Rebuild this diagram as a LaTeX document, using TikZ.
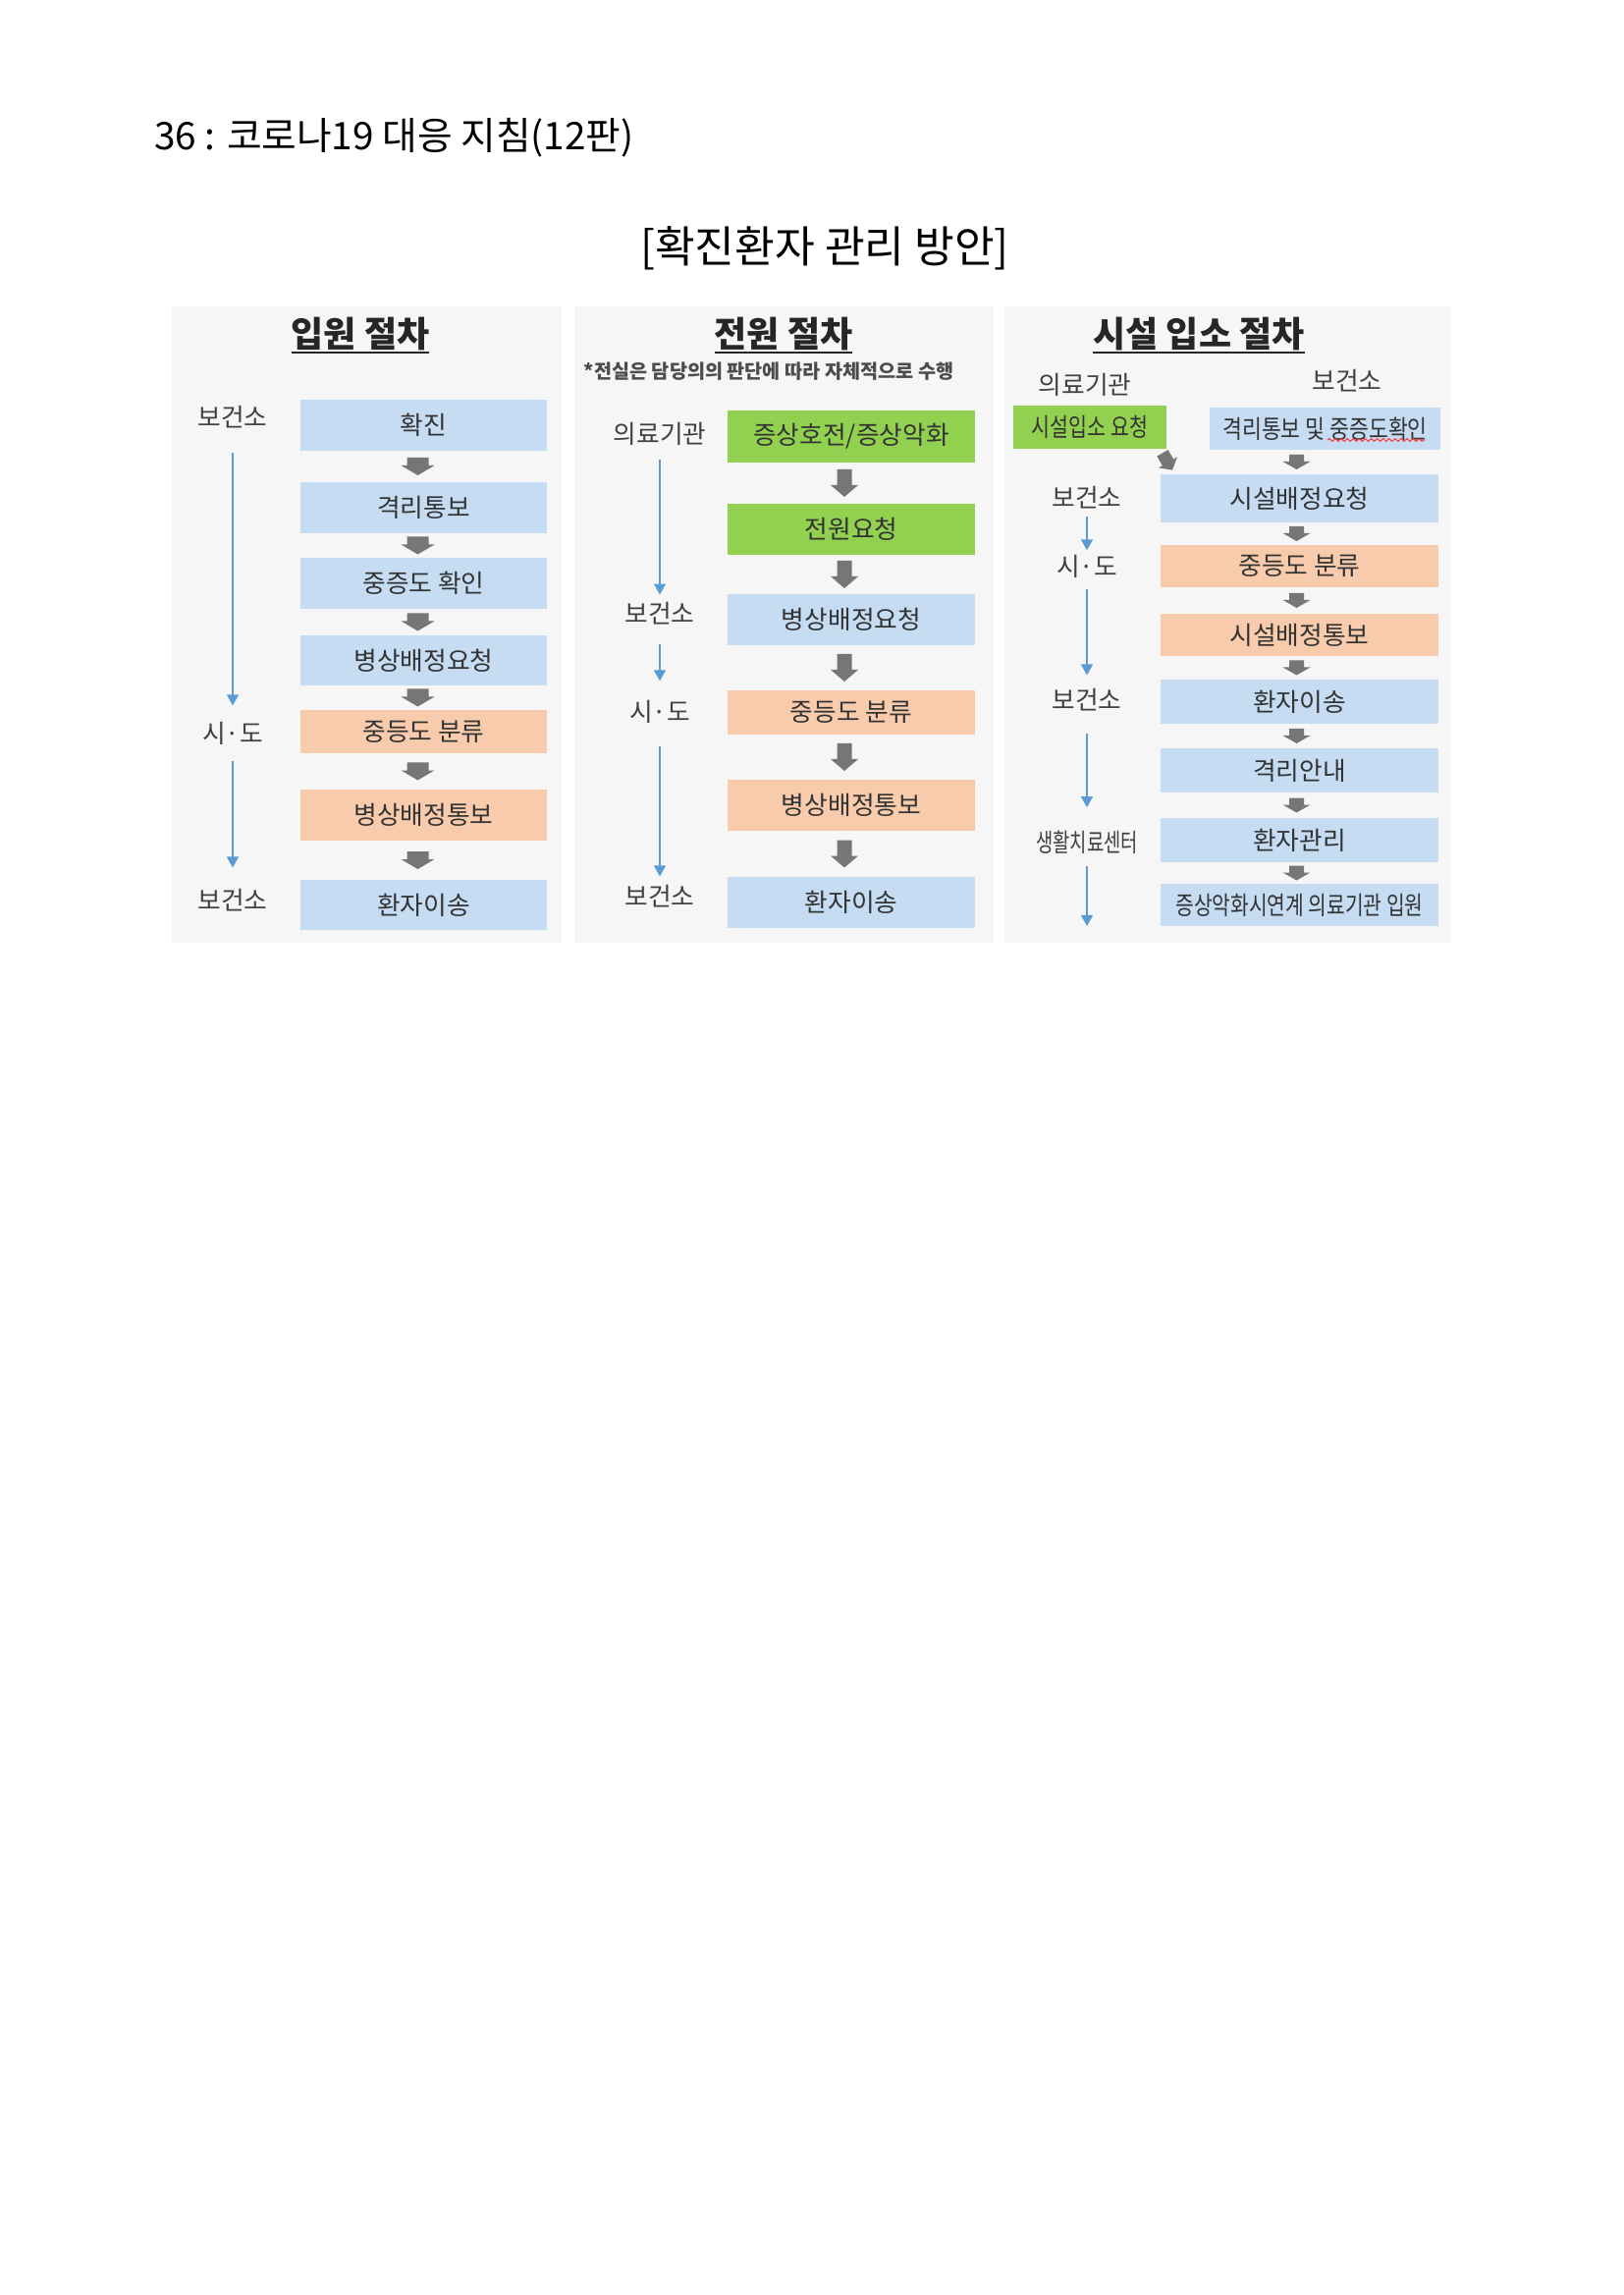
\documentclass[tikz,border=0pt]{standalone}
\usepackage{fontspec}
\setmainfont{Noto Sans CJK KR}
\usetikzlibrary{arrows.meta,calc,decorations.pathmorphing}
\definecolor{boxblue}{RGB}{197,220,243}
\definecolor{boxorange}{RGB}{248,203,173}
\definecolor{boxgreen}{RGB}{146,208,80}
\definecolor{blkgray}{RGB}{118,118,118}
\definecolor{lineblue}{RGB}{91,155,213}
\definecolor{panelbg}{RGB}{246,246,246}
\tikzset{
  box/.style={text=black!80},
  lbl/.style={text=black!75},
  ttl/.style={font=\fontsize{13}{15}\selectfont\bfseries, text=black!85},
  uline/.style={line width=0.7pt, black!85},
  flow/.style={draw=lineblue, line width=0.6pt, -{Triangle[width=4.3pt,length=4pt]}},
  % block arrow: head width / stem width / length / head length
  pics/dn/.style args={#1/#2/#3/#4}{code={
    \fill[blkgray] (-#2/2,-#3/2) -- (#2/2,-#3/2) -- (#2/2,#3/2-#4) -- (#1/2,#3/2-#4) -- (0,#3/2)
      -- (-#1/2,#3/2-#4) -- (-#2/2,#3/2-#4) -- cycle;}},
}
\begin{document}
\begin{tikzpicture}[x=0.127mm, y=-0.127mm, every node/.style={inner sep=0pt, outer sep=0pt, font=\fontsize{9.3}{11}\selectfont}]
\useasboundingbox (0,0) rectangle (1653,2337);
\node[anchor=base west, font=\fontsize{14}{16}\selectfont] (head) at (157,153) {36 : 코로나19 대응 지침(12판)};
\node[anchor=base, font=\fontsize{16}{18}\selectfont] (title) at (840,268) {[확진환자 관리 방안]};
% panels
\fill[panelbg] (175,312) rectangle (572,960);
\fill[panelbg] (585,312) rectangle (1012,960);
\fill[panelbg] (1023,312) rectangle (1478,960);
\foreach \t/\x/\s in {t1/367/입원 절차, t2/798/전원 절차, t3/1221/시설 입소 절차} {
    \node[ttl] (\t) at (\x,340) {\s};
    \draw[uline] ([yshift=-0.8pt]\t.south west) -- ([yshift=-0.8pt]\t.south east);
}
\node[font=\fontsize{7.1}{8}\selectfont\bfseries, text=black!70] (note) at (783,378) {*전실은 담당의의 판단에 따라 자체적으로 수행};

% 입원 절차
\foreach \n/\y/\h/\c/\s in {1/433/52/boxblue/확진, 2/517/52/boxblue/격리통보, 3/594/52/boxblue/중증도 확인,
    4/672.5/51/boxblue/병상배정요청, 5/745/44/boxorange/중등도 분류, 6/830/52/boxorange/병상배정통보, 7/921.5/51/boxblue/환자이송}
    \node[box, fill=\c, minimum width=90.7pt, minimum height=\h*0.3614pt] (a\n) at (431.5,\y) {\s};
\foreach \i/\j in {1/2,2/3,3/4,4/5,5/6,6/7}
    \pic at ($(a\i.south)!.5!(a\j.north)+(-6,0)$) {dn=34/22/18/10};
\node[lbl] (p1) at (237,425) {보건소};
\node[lbl] (p2) at (237,747) {시·도};
\node[lbl] (p3) at (237,917) {보건소};
\draw[flow, shorten <=9pt, shorten >=6.1pt] (p1.south) -- (p2.north);
\draw[flow, shorten <=5.8pt, shorten >=8pt] (p2.south) -- (p3.north);

% 전원 절차
\foreach \n/\y/\h/\c/\s in {1/444.5/53/boxgreen/{증상호전/증상악화}, 2/539/52/boxgreen/전원요청, 3/631/52/boxblue/병상배정요청,
    4/725.5/45/boxorange/중등도 분류, 5/820/52/boxorange/병상배정통보, 6/919/52/boxblue/환자이송}
    \node[box, fill=\c, minimum width=91.1pt, minimum height=\h*0.3614pt] (b\n) at (867,\y) {\s};
\foreach \i/\j in {1/2,2/3,3/4,4/5,5/6}
    \pic at ($(b\i.south)!.5!(b\j.north)+(-7,0)$) {dn=28/15/28/12};
\node[lbl] (q1) at (672,442) {의료기관};
\node[lbl] (q2) at (672,625) {보건소};
\node[lbl] (q3) at (672,725) {시·도};
\node[lbl] (q4) at (672,913) {보건소};
\draw[flow, shorten <=5.1pt, shorten >=2.9pt] (q1.south) -- (q2.north);
\draw[flow, shorten <=7.2pt, shorten >=7.2pt] (q2.south) -- (q3.north);
\draw[flow, shorten <=8.3pt, shorten >=3.3pt] (q3.south) -- (q4.north);

% 시설 입소 절차
\node[box, fill=boxgreen, minimum width=56.4pt, minimum height=44*0.3614pt] (c0) at (1110,435) {\scalebox{0.8}[1]{시설입소 요청}};
\node[box, fill=boxblue, minimum width=84.9pt, minimum height=43*0.3614pt] (d0) at (1349.5,436.5) {\scalebox{0.84}[1]{격리통보 및 중증도확인}};
\draw[red!80, line width=0.35pt, decorate, decoration={snake, amplitude=0.5pt, segment length=2.2pt}] (1352,448) -- (1452,448);
\foreach \n/\y/\h/\c/\s in {1/507.5/49/boxblue/시설배정요청, 2/576.5/43/boxorange/중등도 분류, 3/646.5/43/boxorange/시설배정통보,
    4/714.5/45/boxblue/환자이송, 5/784.5/45/boxblue/격리안내, 6/855.5/45/boxblue/환자관리,
    7/921.5/43/boxblue/{\scalebox{0.79}[1]{증상악화시연계 의료기관 입원}}}
    \node[box, fill=\c, minimum width=102.3pt, minimum height=\h*0.3614pt] (c\n) at (1323.5,\y) {\s};
\foreach \i/\j in {1/2,2/3,3/4,4/5,5/6,6/7}
    \pic at ($(c\i.south)!.5!(c\j.north)+(-3,0)$) {dn=28/15/15/8};
\pic at ($(d0.south)!.5!(c1.north)+(-16,0)$) {dn=28/15/15/8};
\pic[rotate=30] at ($(c0.south east)!.5!(c1.north west)+(4,0)$) {dn=22/13/20/9};
\node[lbl] (r0) at (1105,392) {의료기관};
\node[lbl] (r5) at (1372,388) {보건소};
\node[lbl] (r1) at (1107,507) {보건소};
\node[lbl] (r2) at (1107,577) {시·도};
\node[lbl] (r3) at (1107,713) {보건소};
\node[lbl] (r4) at (1107,858) {\scalebox{0.73}[1]{생활치료센터}};
\coordinate (r6) at (1107,943);
\draw[flow, shorten <=2.9pt, shorten >=1.8pt] (r1.south) -- (r2.north);
\draw[flow, shorten <=4pt, shorten >=5.1pt] (r2.south) -- (r3.north);
\draw[flow, shorten <=8.3pt, shorten >=8.7pt] (r3.south) -- (r4.north);
\draw[flow, shorten <=4.3pt] (r4.south) -- (r6);
\end{tikzpicture}
\end{document}
